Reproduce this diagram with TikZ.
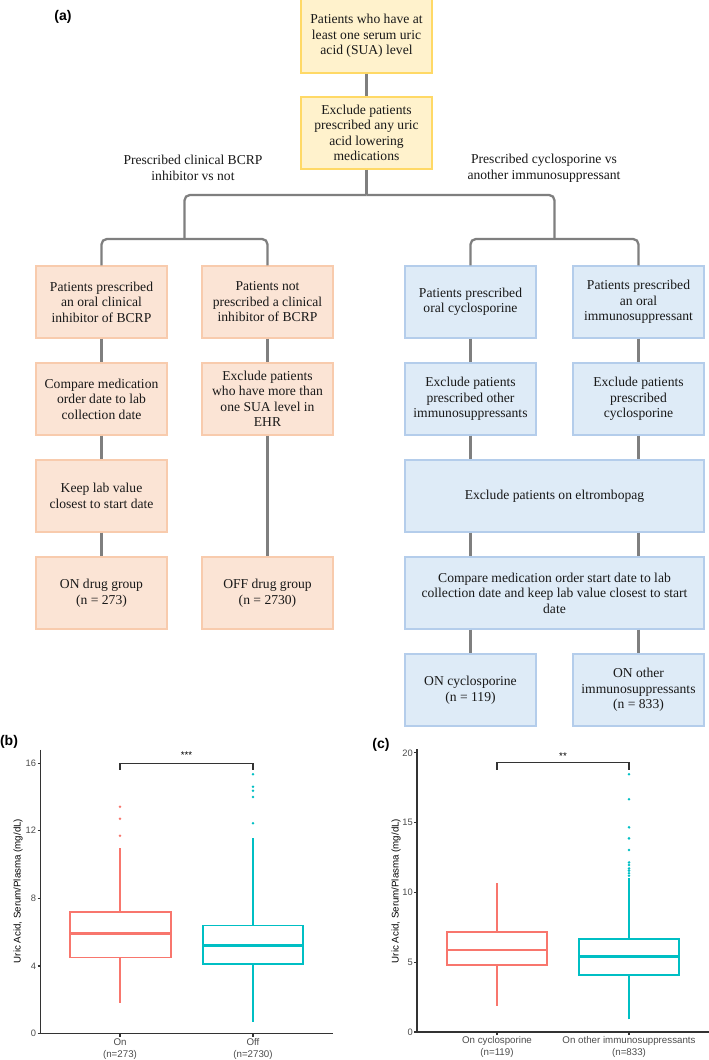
\documentclass[tikz,border=0pt]{standalone}
\usepackage{fontspec}
\setmainfont{Liberation Serif}
\setsansfont{Liberation Sans}
\usetikzlibrary{calc}
\definecolor{yfill}{HTML}{FFF2CC}
\definecolor{ydraw}{HTML}{FFD966}
\definecolor{ofill}{HTML}{FBE4D5}
\definecolor{odraw}{HTML}{F8CBAD}
\definecolor{bfill}{HTML}{DEEBF7}
\definecolor{bdraw}{HTML}{B4CDEB}
\definecolor{conc}{HTML}{7F7F7F}
\definecolor{gred}{HTML}{F8766D}
\definecolor{gteal}{HTML}{00BFC4}
\definecolor{axc}{HTML}{333333}
\definecolor{tickc}{HTML}{4D4D4D}
\begin{document}
\begin{tikzpicture}[x=0.75pt,y=-0.75pt,
  fbox/.style={rectangle, inner sep=0pt, minimum width=98.25pt, minimum height=54pt,
    align=center, text=black!90, font=\fontsize{10.2}{11.6}\selectfont, line width=0.8pt},
  ybox/.style={fbox, fill=yfill, draw=ydraw},
  obox/.style={fbox, fill=ofill, draw=odraw},
  bbox/.style={fbox, fill=bfill, draw=bdraw},
  widebox/.style={minimum width=224.25pt},
  conline/.style={draw=conc, line width=1.7pt},
  branchlab/.style={align=center, font=\fontsize{10.2}{11.6}\selectfont, text=black!90},
  panellab/.style={font=\sffamily\bfseries\fontsize{10.5}{12}\selectfont},
  axline/.style={draw=axc, line width=0.9pt},
  ticklab/.style={font=\sffamily\fontsize{7}{8.5}\selectfont, text=tickc, inner sep=0pt},
  xlab/.style={font=\sffamily\fontsize{7.3}{9}\selectfont, text=tickc, align=center, inner sep=0pt},
  axtitle/.style={font=\sffamily\fontsize{7.3}{9}\selectfont, rotate=90},
  sigline/.style={draw=axc, line width=0.8pt},
  boxred/.style={draw=gred, line width=1.1pt},
  boxteal/.style={draw=gteal, line width=1.1pt},
  medred/.style={draw=gred, line width=2pt},
  medteal/.style={draw=gteal, line width=2pt},
  dotred/.style={fill=gred},
  dotteal/.style={fill=gteal}
]
\fill[white] (0,0) rectangle (709,1060);
\useasboundingbox (0,0) rectangle (709,1060);

% ---------------- flowchart ----------------
\node[panellab] (pa) at (63,17) {(a)};

\node[ybox, minimum height=55.5pt] (A1) at (366.5,36) {Patients who have at\\least one serum uric\\acid (SUA) level};
\node[ybox] (A2) at (366.5,133) {Exclude patients\\prescribed any uric\\acid lowering\\medications};

\node[branchlab] (L1) at (193,168) {Prescribed clinical BCRP\\inhibitor vs not};
\node[branchlab] (L2) at (544,168) {Prescribed cyclosporine vs\\another immunosuppressant};

\node[obox] (B11) at (101.5,302) {Patients prescribed\\an oral clinical\\inhibitor of BCRP};
\node[obox] (B21) at (101.5,399) {Compare medication\\order date to lab\\collection date};
\node[obox] (B31) at (101.5,496) {Keep lab value\\closest to start date};
\node[obox] (B41) at (101.5,593) {ON drug group\\(n = 273)};

\node[obox] (B12) at (267.5,302) {Patients not\\prescribed a clinical\\inhibitor of BCRP};
\node[obox] (B22) at (267.5,399) {Exclude patients\\who have more than\\one SUA level in\\EHR};
\node[obox] (B42) at (267.5,593) {OFF drug group\\(n = 2730)};

\node[bbox] (C11) at (470.5,302) {Patients prescribed\\oral cyclosporine};
\node[bbox] (C21) at (470.5,399) {Exclude patients\\prescribed other\\immunosuppressants};
\node[bbox] (C12) at (638.5,302) {Patients prescribed\\an oral\\immunosuppressant};
\node[bbox] (C22) at (638.5,399) {Exclude patients\\prescribed\\cyclosporine};
\node[bbox, widebox] (W3) at (554.5,496) {Exclude patients on eltrombopag};
\node[bbox, widebox] (W4) at (554.5,593) {Compare medication order start date to lab\\collection date and keep lab value closest to start\\date};
\node[bbox] (C51) at (470.5,690) {ON cyclosporine\\(n = 119)};
\node[bbox] (C52) at (638.5,690) {ON other\\immunosuppressants\\(n = 833)};

\coordinate (split) at (366.5,195);
\coordinate (lj) at (184.5,239);
\coordinate (rj) at (554.5,239);

\draw[conline] (A1) -- (A2);
\draw[conline] (A2) -- (split);
\draw[conline, rounded corners=4pt] (split) -| (lj);
\draw[conline, rounded corners=4pt] (split) -| (rj);
\draw[conline, rounded corners=4pt] (B11.north) |- (lj) -| (B12.north);
\draw[conline, rounded corners=4pt] (C11.north) |- (rj) -| (C12.north);

\draw[conline] (B11) -- (B21);
\draw[conline] (B21) -- (B31);
\draw[conline] (B31) -- (B41);
\draw[conline] (B12) -- (B22);
\draw[conline] (B22) -- (B42);
\draw[conline] (C11) -- (C21);
\draw[conline] (C12) -- (C22);
\draw[conline] (C21.south) -- (C21.south |- W3.north);
\draw[conline] (C22.south) -- (C22.south |- W3.north);
\draw[conline] (W3.south -| C21) -- (W4.north -| C21);
\draw[conline] (W3.south -| C22) -- (W4.north -| C22);
\draw[conline] (W4.south -| C51) -- (C51.north);
\draw[conline] (W4.south -| C52) -- (C52.north);

% ---------------- plot (b) ----------------
\node[panellab] (pb) at (9,742) {(b)};
\node[axtitle] (tb) at (18,891) {Uric Acid, Serum/Plasma (mg/dL)};
\begin{scope}[shift={(0,1033.5)}]
\begin{scope}[y=12.675pt]
  \draw[axline] (40.7,16.78) -- (40.7,0) -- (333,0);
  \foreach \v in {0,4,8,12,16} {
    \draw[axline] (37.5,\v) -- (40.7,\v);
    \node[ticklab, anchor=east] (bt\v) at (36.3,\v) {\v};
  }
  \draw[axline] (120,0) -- ++(0pt,-2.3pt);
  \draw[axline] (253,0) -- ++(0pt,-2.3pt);
  \node[xlab, anchor=north] (bx1) at ([yshift=-3.4pt]120,0) {On\\(n=273)};
  \node[xlab, anchor=north] (bx2) at ([yshift=-3.4pt]253,0) {Off\\(n=2730)};
  % On
  \draw[boxred] (120,1.82) -- (120,4.5);
  \draw[boxred] (120,7.2) -- (120,10.96);
  \draw[boxred] (70,4.5) rectangle (171,7.2);
  \draw[medred] (70,5.9) -- (171,5.9);
  \foreach \o in {11.7,12.71,13.42} \fill[dotred] (120,\o) circle (1.05pt);
  % Off
  \draw[boxteal] (253,0.7) -- (253,4.1);
  \draw[boxteal] (253,6.4) -- (253,9.87);
  \draw[boxteal] (203,4.1) rectangle (303,6.4);
  \draw[medteal] (203,5.2) -- (303,5.2);
  \draw[draw=gteal, line width=2.1pt] (253,9.87) -- (253,11.55);
  \foreach \o in {12.44,14.0,14.37,14.6,15.34} \fill[dotteal] (253,\o) circle (1.05pt);
  % significance
  \draw[sigline] (120,15.6) -- (120,16) -- (253,16) -- (253,15.6);
  \node[font=\sffamily\fontsize{7.3}{9}\selectfont, anchor=base, inner sep=0pt] (sb) at (186.5,16.3) {***};
\end{scope}
\end{scope}

% ---------------- plot (c) ----------------
\node[panellab] (pc) at (381,745) {(c)};
\node[axtitle] (tc) at (396,891) {Uric Acid, Serum/Plasma (mg/dL)};
\begin{scope}[shift={(0,1032)}]
\begin{scope}[y=10.47pt]
  \draw[axline] (417,20.27) -- (417,0) -- (709,0);
  \foreach \v in {0,5,10,15,20} {
    \draw[axline] (414,\v) -- (417,\v);
    \node[ticklab, anchor=east] (ct\v) at (413,\v) {\v};
  }
  \draw[axline] (497,0) -- ++(0pt,-2.3pt);
  \draw[axline] (629,0) -- ++(0pt,-2.3pt);
  \node[xlab, anchor=north] (cx1) at ([yshift=-3.4pt]497,0) {On cyclosporine\\(n=119)};
  \node[xlab, anchor=north] (cx2) at ([yshift=-3.4pt]629,0) {On other immunosuppressants\\(n=833)};
  % cyclosporine
  \draw[boxred] (497,1.89) -- (497,4.8);
  \draw[boxred] (497,7.18) -- (497,10.65);
  \draw[boxred] (447,4.8) rectangle (547,7.18);
  \draw[medred] (447,5.87) -- (547,5.87);
  % other
  \draw[boxteal] (629,0.91) -- (629,4.08);
  \draw[boxteal] (629,6.66) -- (629,10.7);
  \draw[boxteal] (579,4.08) rectangle (679,6.66);
  \draw[medteal] (579,5.4) -- (679,5.4);
  \draw[draw=gteal, line width=2.1pt] (629,10.7) -- (629,11.0);
  \foreach \o in {11.2,11.37,11.56,11.72,11.96,12.15,13.04,13.87,14.66,16.67,18.46} \fill[dotteal] (629,\o) circle (1.05pt);
  % significance
  \draw[sigline] (497,18.8) -- (497,19.3) -- (629,19.3) -- (629,18.8);
  \node[font=\sffamily\fontsize{7.3}{9}\selectfont, anchor=base, inner sep=0pt] (sc) at (563,19.55) {**};
\end{scope}
\end{scope}
\end{tikzpicture}
\end{document}
